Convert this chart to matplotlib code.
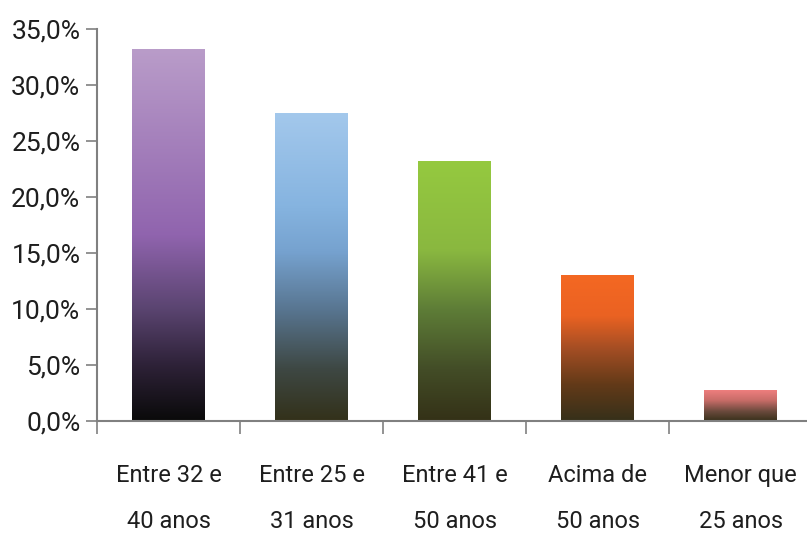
import matplotlib
matplotlib.use("Agg")
import matplotlib.pyplot as plt
import numpy as np
from matplotlib.colors import LinearSegmentedColormap
import matplotlib.ticker as ticker

plt.rcParams['font.family'] = ['Roboto', 'DejaVu Sans']

categories = ["Entre 32 e\n40 anos", "Entre 25 e\n31 anos", "Entre 41 e\n50 anos",
              "Acima de\n50 anos", "Menor que\n25 anos"]
values = [33.2, 27.5, 23.2, 13.0, 2.8]

# gradient stops per bar: (position from bottom, colour)
gradients = [
    [(0.0, "#0a0a0a"), (0.15, "#2e2238"), (0.3, "#5a4470"), (0.5, "#9064ae"), (1.0, "#b99cc9")],
    [(0.0, "#33311a"), (0.17, "#3e4844"), (0.36, "#587590"), (0.55, "#76a2cf"), (0.7, "#86b4e0"), (1.0, "#a3c8ec")],
    [(0.0, "#343117"), (0.2, "#434d27"), (0.43, "#5e7d37"), (0.66, "#8ab840"), (1.0, "#95c93f")],
    [(0.0, "#36301a"), (0.25, "#633a18"), (0.5, "#a54e24"), (0.72, "#ea6222"), (1.0, "#f46822")],
    [(0.0, "#38301a"), (0.3, "#6a4a3c"), (0.65, "#c86c68"), (1.0, "#f28080")],
]

fig = plt.figure(figsize=(8.07, 5.34), dpi=100)
ax = fig.add_axes([0.1202, 0.2116, 0.886, 0.734])

x = np.arange(len(values))
bars = ax.bar(x, values, width=0.51, color="none", edgecolor="none", zorder=2)

grad = np.linspace(0, 1, 256).reshape(-1, 1)
for bar, stops in zip(bars, gradients):
    cmap = LinearSegmentedColormap.from_list("g", stops)
    x0, y0 = bar.get_x(), bar.get_y()
    w, h = bar.get_width(), bar.get_height()
    im = ax.imshow(grad, cmap=cmap, origin="lower", aspect="auto",
                   extent=(x0, x0 + w, y0, y0 + h), zorder=2)
    im.set_clip_path(bar)

ax.set_xlim(-0.5, len(values) - 0.5)
ax.set_ylim(0, 35)

ax.spines["top"].set_visible(False)
ax.spines["right"].set_visible(False)
for s in ("left", "bottom"):
    ax.spines[s].set_color("#808080")
    ax.spines[s].set_linewidth(1.5)
    ax.spines[s].set_zorder(3)

ax.yaxis.set_major_locator(ticker.MultipleLocator(5))
ax.yaxis.set_major_formatter(ticker.FuncFormatter(lambda v, p: f"{v:.1f}%".replace(".", ",")))
ax.tick_params(axis="y", direction="out", length=8, width=1.2, color="#808080",
               labelsize=19, labelcolor="#1e1e1e", pad=4)

# category boundaries as major ticks, labels on minor ticks
ax.xaxis.set_major_locator(ticker.FixedLocator(np.arange(-0.5, len(values), 1.0)))
ax.xaxis.set_major_formatter(ticker.NullFormatter())
ax.xaxis.set_minor_locator(ticker.FixedLocator(x))
ax.xaxis.set_minor_formatter(ticker.FixedFormatter(categories))
ax.tick_params(axis="x", which="major", direction="out", length=9, width=1.2, color="#808080")
ax.tick_params(axis="x", which="minor", length=0, labelsize=17, labelcolor="#1e1e1e", pad=31)
for lbl in ax.xaxis.get_minorticklabels():
    lbl.set_linespacing(2.3)

fig.savefig("out.png", dpi=100)
